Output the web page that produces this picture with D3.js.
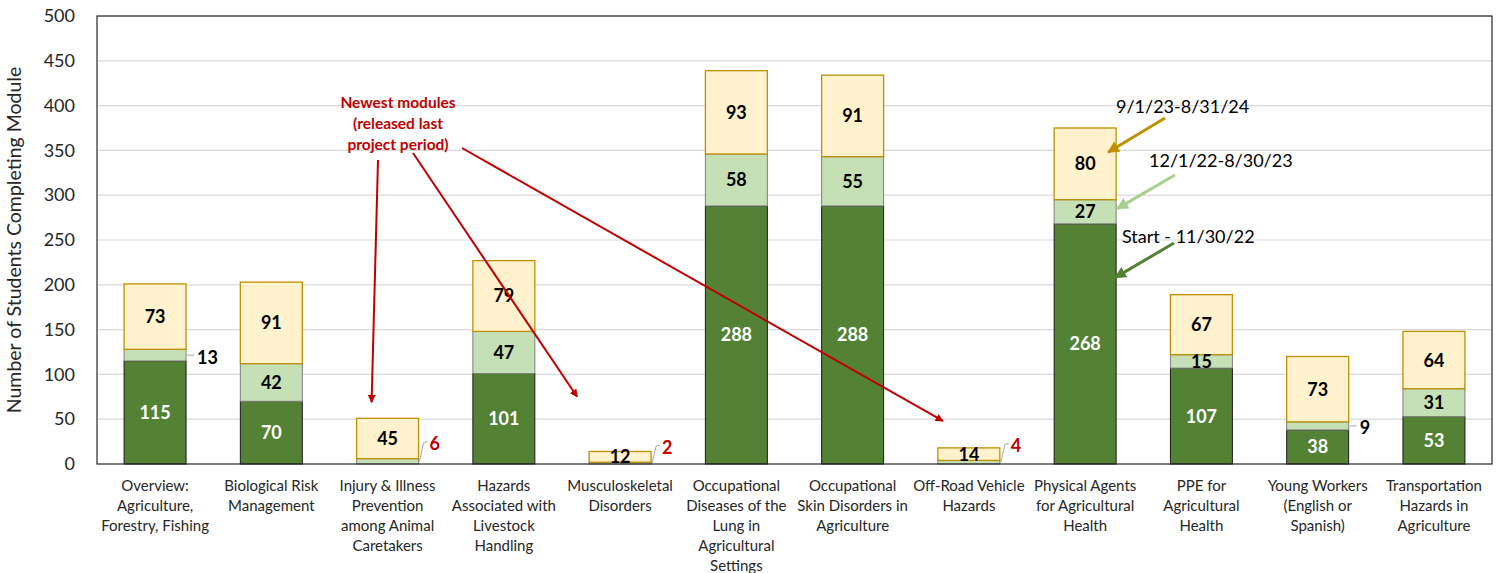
<!DOCTYPE html>
<html>
<head>
<meta charset="utf-8">
<script src="https://cdn.jsdelivr.net/npm/d3@7"></script>
<style>
  body { margin: 0; background: #fff; }
  svg { display: block; font-family: Lato, "Open Sans", sans-serif; }
</style>
</head>
<body>
<div id="chart"></div>
<script>
// module names, wrapped the way the axis shows them
var categories = [
  ["Overview:", "Agriculture,", "Forestry, Fishing"],
  ["Biological Risk", "Management"],
  ["Injury & Illness", "Prevention", "among Animal", "Caretakers"],
  ["Hazards", "Associated with", "Livestock", "Handling"],
  ["Musculoskeletal", "Disorders"],
  ["Occupational", "Diseases of the", "Lung in", "Agricultural", "Settings"],
  ["Occupational", "Skin Disorders in", "Agriculture"],
  ["Off-Road Vehicle", "Hazards"],
  ["Physical Agents", "for Agricultural", "Health"],
  ["PPE for", "Agricultural", "Health"],
  ["Young Workers", "(English or", "Spanish)"],
  ["Transportation", "Hazards in", "Agriculture"]
];

var startVals = [115, 70, 0, 101, 0, 288, 288, 0, 268, 107, 38, 53];   // Start - 11/30/22
var midVals   = [13, 42, 6, 47, 2, 58, 55, 4, 27, 15, 9, 31];           // 12/1/22-8/30/23
var lastVals  = [73, 91, 45, 79, 12, 93, 91, 14, 80, 67, 73, 64];       // 9/1/23-8/31/24

var yTicks = [0, 50, 100, 150, 200, 250, 300, 350, 400, 450, 500];

var W = 1500, H = 573;
var m = { left: 97, right: 8, top: 16, bottom: 109 };

var svg = d3.select("#chart").append("svg")
  .attr("width", W)
  .attr("height", H);

var x = d3.scaleBand()
  .domain(d3.range(categories.length))
  .range([m.left, W - m.right])
  .paddingInner(0.467)
  .paddingOuter(0.233);

var y = d3.scaleLinear()
  .domain([0, 500])
  .range([H - m.bottom, m.top]);

// gridlines
svg.append("g")
  .selectAll("line")
  .data(yTicks.slice(1))
  .enter().append("line")
  .attr("x1", m.left).attr("x2", W - m.right)
  .attr("y1", function(d) { return y(d); })
  .attr("y2", function(d) { return y(d); })
  .attr("stroke", "#d9d9d9")
  .attr("stroke-width", 1.2);

// y axis
var yAxis = svg.append("g")
  .attr("transform", "translate(" + m.left + ",0)")
  .call(d3.axisLeft(y).tickValues(yTicks).tickSize(0).tickPadding(22));
yAxis.select(".domain").remove();
yAxis.selectAll("text")
  .attr("font-size", 18)
  .attr("font-family", "Lato, sans-serif")
  .attr("fill", "#262626");

svg.append("text")
  .attr("transform", "translate(21," + ((m.top + H - m.bottom) / 2) + ") rotate(-90)")
  .attr("text-anchor", "middle")
  .attr("font-size", 19.5)
  .attr("fill", "#262626")
  .text("Number of Students Completing Module");

// stacked series
var segs = [];
categories.forEach(function(c, i) {
  segs.push({ i: i, key: "start", y0: 0, y1: startVals[i], v: startVals[i] });
  segs.push({ i: i, key: "mid", y0: startVals[i], y1: startVals[i] + midVals[i], v: midVals[i] });
  segs.push({ i: i, key: "last", y0: startVals[i] + midVals[i], y1: startVals[i] + midVals[i] + lastVals[i], v: lastVals[i] });
});

var fill = { start: "#548235", mid: "#c5e0b4", last: "#fff2cc" };
var stroke = { start: "#1a1a1a", mid: "#7f7f7f", last: "#bf9000" };

svg.append("g")
  .selectAll("rect")
  .data(segs.filter(function(d) { return d.v > 0; }))
  .enter().append("rect")
  .attr("x", function(d) { return x(d.i); })
  .attr("width", x.bandwidth())
  .attr("y", function(d) { return y(d.y1); })
  .attr("height", function(d) { return y(d.y0) - y(d.y1); })
  .attr("fill", function(d) { return fill[d.key]; })
  .attr("stroke", function(d) { return stroke[d.key]; })
  .attr("stroke-width", function(d) { return d.key === "last" ? 1.3 : 1; });

// frame + base line
svg.append("rect")
  .attr("x", m.left).attr("y", m.top)
  .attr("width", W - m.right - m.left)
  .attr("height", H - m.bottom - m.top)
  .attr("fill", "none")
  .attr("stroke", "#262626")
  .attr("stroke-width", 1.2);

// labels inside bars
function isOutside(d) { return d.key === "mid" && d.v < 14; }

svg.append("g")
  .selectAll("text")
  .data(segs.filter(function(d) { return d.v > 0 && !isOutside(d); }))
  .enter().append("text")
  .attr("x", function(d) { return x(d.i) + x.bandwidth() / 2; })
  .attr("y", function(d) { return y((d.y0 + d.y1) / 2); })
  .attr("dy", "0.36em")
  .attr("text-anchor", "middle")
  .attr("font-size", 18)
  .attr("font-weight", "bold")
  .attr("fill", function(d) { return d.key === "start" ? "#fff" : "#000"; })
  .text(function(d) { return d.v; });

// labels outside bars, with short leader lines
var outs = segs.filter(isOutside).map(function(d) {
  var red = startVals[d.i] === 0;
  var cy = y((d.y0 + d.y1) / 2);
  return {
    d: d, red: red, cy: cy,
    ly: red ? y(d.y1) - 15 : cy + 2,
    bx: x(d.i) + x.bandwidth()
  };
});

var og = svg.append("g");
og.selectAll("path")
  .data(outs)
  .enter().append("path")
  .attr("d", function(o) {
    return o.red
      ? "M" + (o.bx + 1) + "," + (o.cy) + "L" + (o.bx + 5) + "," + (o.ly - 1) + "L" + (o.bx + 9) + "," + (o.ly - 2)
      : "M" + (o.bx + 1) + "," + o.cy + "L" + (o.bx + 8) + "," + o.cy;
  })
  .attr("fill", "none")
  .attr("stroke", "#a6a6a6")
  .attr("stroke-width", 1);
og.selectAll("text")
  .data(outs)
  .enter().append("text")
  .attr("x", function(o) { return o.bx + 11; })
  .attr("y", function(o) { return o.ly; })
  .attr("dy", "0.36em")
  .attr("font-size", 18)
  .attr("font-weight", "bold")
  .attr("fill", function(o) { return o.red ? "#c00000" : "#000"; })
  .text(function(o) { return o.d.v; });

// category labels
var xl = svg.append("g")
  .selectAll("text")
  .data(categories)
  .enter().append("text")
  .attr("x", function(d, i) { return x(i) + x.bandwidth() / 2; })
  .attr("y", 491)
  .attr("text-anchor", "middle")
  .attr("font-size", 15)
  .attr("fill", "#262626");
xl.selectAll("tspan")
  .data(function(d) { return d; })
  .enter().append("tspan")
  .attr("x", function() { return this.parentNode.getAttribute("x"); })
  .attr("dy", function(d, k) { return k === 0 ? 0 : 20; })
  .text(function(d) { return d; });

// arrow markers
var defs = svg.append("defs");
function marker(id, color) {
  defs.append("marker")
    .attr("id", id)
    .attr("viewBox", "0 0 10 10")
    .attr("refX", 9).attr("refY", 5)
    .attr("markerWidth", 4).attr("markerHeight", 4)
    .attr("orient", "auto")
    .append("path")
    .attr("d", "M0,0L10,5L0,10z")
    .attr("fill", color);
}
marker("ar-red", "#c00000");
marker("ar-gold", "#bf9000");
marker("ar-lg", "#a9d18e");
marker("ar-dg", "#548235");

function arrow(x1, y1, x2, y2, color, mk, w) {
  svg.append("line")
    .attr("x1", x1).attr("y1", y1)
    .attr("x2", x2).attr("y2", y2)
    .attr("stroke", color)
    .attr("stroke-width", w)
    .attr("marker-end", "url(#" + mk + ")");
}

// "newest modules" callout
var note = svg.append("text")
  .attr("text-anchor", "middle")
  .attr("font-size", 15.5)
  .attr("font-weight", "bold")
  .attr("fill", "#c00000");
["Newest modules", "(released last", "project period)"].forEach(function(t, k) {
  note.append("tspan").attr("x", 398).attr("y", 108 + k * 21).text(t);
});
arrow(378, 160, x(2) + 15, y(69), "#c00000", "ar-red", 2);
arrow(413, 153, x(4) - 12, y(75), "#c00000", "ar-red", 2);
arrow(462, 148, x(7) + 5, y(48), "#c00000", "ar-red", 2);

// series callouts pointing at the Physical Agents bar
var bx = x(8) + x.bandwidth();
var callouts = [
  { text: "9/1/23-8/31/24", tx: 1116, ty: 113, x1: 1165, y1: 118, v: 348, color: "#bf9000", mk: "ar-gold", dx: -8 },
  { text: "12/1/22-8/30/23", tx: 1149, ty: 167, x1: 1175, y1: 175, v: 285, color: "#a9d18e", mk: "ar-lg", dx: 1 },
  { text: "Start - 11/30/22", tx: 1122, ty: 243, x1: 1174, y1: 243, v: 208, color: "#548235", mk: "ar-dg", dx: -1 }
];
callouts.forEach(function(c) {
  svg.append("text")
    .attr("x", c.tx).attr("y", c.ty)
    .attr("font-size", 18)
    .attr("fill", "#000")
    .text(c.text);
  arrow(c.x1, c.y1, bx + c.dx, y(c.v), c.color, c.mk, 3);
});
</script>
</body>
</html>
